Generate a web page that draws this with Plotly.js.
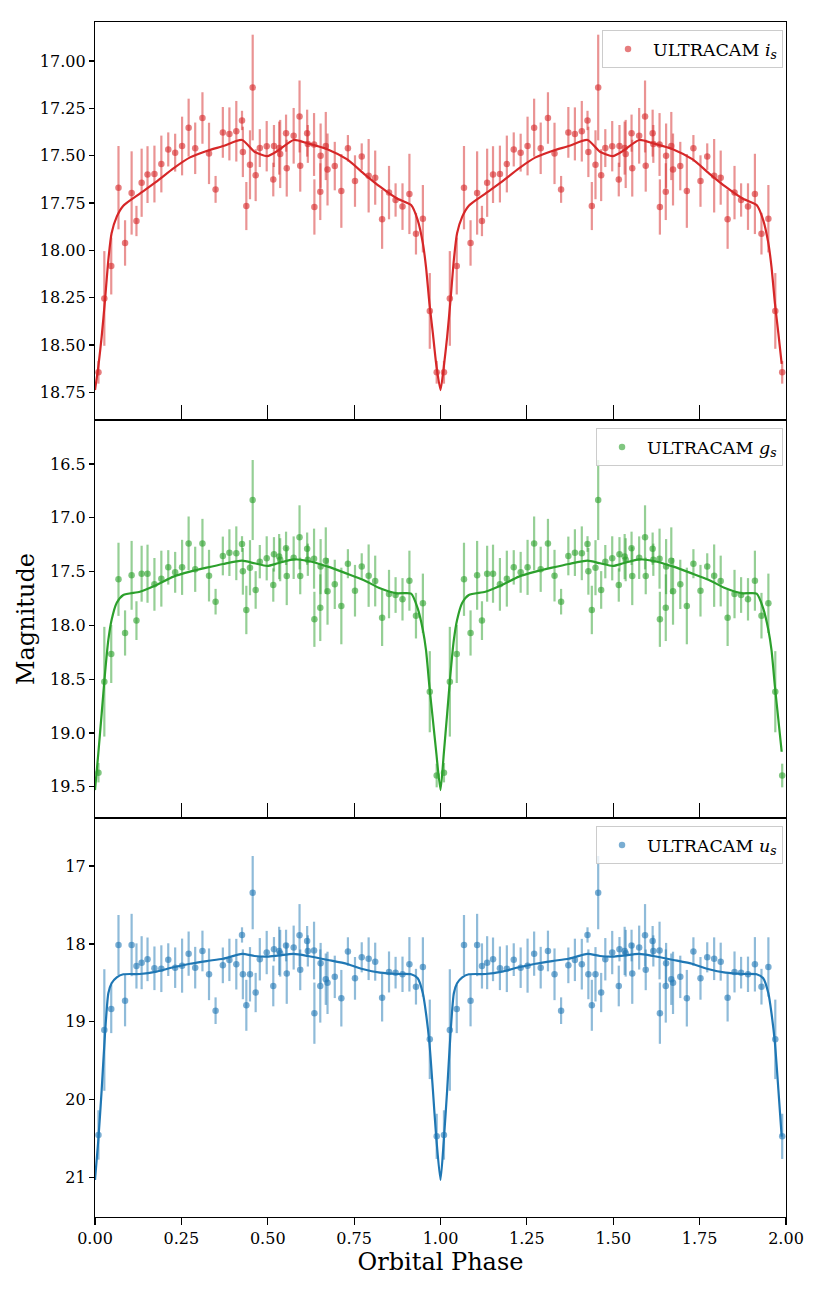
<!DOCTYPE html>
<html>
<head>
<meta charset="utf-8">
<script src="https://cdn.plot.ly/plotly-3.0.1.min.js"></script>
<style>html,body{margin:0;padding:0;background:#fff;}#chart{width:822px;height:1292px;}</style>
</head>
<body>
<div id="chart"></div>
<script>
// ---- data (phase 0..1, folded twice on the plot) ----
const phase = [0.010,0.027,0.047,0.068,0.087,0.106,0.120,0.135,0.152,0.172,0.192,0.212,0.232,0.252,0.271,0.290,0.311,0.330,0.349,0.370,0.389,0.409,0.4255,0.428,0.438,0.4486,0.4564,0.465,0.477,0.497,0.516,0.518,0.533,0.536,0.553,0.555,0.575,0.592,0.594,0.614,0.616,0.634,0.635,0.652,0.653,0.668,0.673,0.694,0.713,0.732,0.7525,0.772,0.792,0.811,0.831,0.851,0.870,0.890,0.910,0.929,0.949,0.969,0.989];

const iMag = [18.644,18.254,18.083,17.669,17.961,17.697,17.845,17.643,17.600,17.597,17.544,17.467,17.484,17.449,17.352,17.461,17.301,17.488,17.678,17.377,17.385,17.371,17.314,17.480,17.766,17.548,17.140,17.603,17.460,17.450,17.626,17.449,17.460,17.491,17.381,17.566,17.395,17.293,17.553,17.381,17.438,17.441,17.771,17.690,17.500,17.449,17.573,17.555,17.686,17.461,17.634,17.505,17.606,17.616,17.836,17.695,17.734,17.769,17.702,17.912,17.833,18.320,18.644];
const iErr = [0.06,0.25,0.15,0.22,0.12,0.22,0.08,0.18,0.15,0.15,0.15,0.09,0.10,0.155,0.153,0.136,0.136,0.162,0.071,0.134,0.14,0.16,0.051,0.133,0.127,0.182,0.279,0.137,0.10,0.133,0.089,0.111,0.14,0.18,0.098,0.15,0.147,0.19,0.137,0.124,0.10,0.166,0.146,0.15,0.17,0.18,0.19,0.128,0.195,0.07,0.136,0.07,0.194,0.143,0.156,0.141,0.088,0.123,0.212,0.11,0.178,0.20,0.06];

const gMag = [19.37,18.524,18.266,17.572,18.071,17.535,17.956,17.52,17.52,17.619,17.566,17.461,17.507,17.461,17.238,17.479,17.238,17.538,17.78,17.355,17.324,17.33,17.244,17.498,17.857,17.464,16.835,17.671,17.408,17.377,17.625,17.34,17.361,17.39,17.284,17.541,17.371,17.182,17.541,17.287,17.39,17.38,17.944,17.836,17.454,17.399,17.684,17.619,17.82,17.427,17.678,17.454,17.538,17.588,17.929,17.709,17.718,17.758,17.585,17.91,17.795,18.617,19.396];
const gErr = [0.09,0.51,0.27,0.34,0.21,0.32,0.18,0.26,0.27,0.245,0.26,0.16,0.19,0.256,0.25,0.21,0.228,0.24,0.119,0.18,0.217,0.25,0.073,0.217,0.225,0.256,0.372,0.175,0.155,0.205,0.155,0.16,0.21,0.20,0.155,0.271,0.198,0.298,0.17,0.15,0.15,0.279,0.256,0.31,0.256,0.31,0.31,0.229,0.356,0.135,0.24,0.124,0.29,0.236,0.263,0.225,0.166,0.197,0.279,0.212,0.276,0.377,0.11];

const uMag = [20.452,19.105,18.835,18.014,18.728,18.014,18.283,18.241,18.198,18.313,18.318,18.202,18.305,18.279,18.125,18.305,18.091,18.39,18.857,18.275,18.205,18.26,17.885,18.39,18.788,18.39,17.342,18.624,18.197,18.111,18.54,18.068,18.09,18.12,18.021,18.38,18.047,17.889,18.333,17.962,18.09,18.085,18.889,18.54,18.248,18.453,18.5,18.423,18.697,18.099,18.442,18.172,18.19,18.228,18.69,18.36,18.369,18.39,18.262,18.549,18.296,19.225,20.47];
const uErr = [0.317,0.78,0.31,0.385,0.33,0.40,0.29,0.34,0.28,0.28,0.30,0.21,0.26,0.347,0.284,0.267,0.261,0.332,0.171,0.229,0.272,0.325,0.098,0.32,0.327,0.349,0.47,0.252,0.272,0.278,0.261,0.156,0.31,0.30,0.203,0.389,0.282,0.40,0.261,0.192,0.20,0.37,0.393,0.47,0.261,0.33,0.40,0.272,0.363,0.184,0.274,0.193,0.274,0.244,0.306,0.263,0.203,0.227,0.349,0.229,0.381,0.51,0.29];

// ---- model light curves ----
const modelPhase = [0,0.0096,0.0193,0.029,0.0386,0.048,0.063,0.082,0.13,0.178,0.227,0.275,0.323,0.371,0.4255,0.4615,0.4985,0.529,0.575,0.616,0.674,0.73,0.777,0.825,0.873,0.915,0.934,0.949,0.958,0.968,0.978,0.9875];
const iModel = [18.738,18.614,18.456,18.262,18.051,17.91,17.822,17.764,17.70,17.637,17.567,17.509,17.475,17.449,17.417,17.479,17.502,17.474,17.417,17.435,17.467,17.52,17.593,17.664,17.725,17.761,17.84,17.963,18.087,18.28,18.44,18.60];
const gModel = [19.531,19.19,18.82,18.446,18.136,17.95,17.79,17.718,17.687,17.625,17.547,17.501,17.464,17.43,17.399,17.423,17.448,17.423,17.386,17.402,17.454,17.52,17.578,17.656,17.702,17.705,17.842,18.043,18.229,18.57,18.88,19.175];
const uModel = [21.03,20.517,19.875,19.148,18.634,18.506,18.43,18.39,18.386,18.356,18.30,18.255,18.22,18.19,18.129,18.155,18.163,18.15,18.129,18.155,18.206,18.258,18.326,18.369,18.386,18.39,18.44,18.634,18.89,19.275,19.875,20.474];

const bandLetters = ['i','g','u'];
const bandColors = ['214,39,40','44,160,44','31,119,180'];

const xTicks = [0,0.25,0.5,0.75,1.0,1.25,1.5,1.75,2.0];
const yTicks1 = [17.00,17.25,17.50,17.75,18.00,18.25,18.50,18.75];
const yTicks2 = [16.5,17.0,17.5,18.0,18.5,19.0,19.5];
const yTicks3 = [17,18,19,20,21];

// ---- build ----
const fold = a => a.concat(a);
const foldX = a => a.concat(a.map(p => p + 1));

const FONT = 'DejaVu Serif, Liberation Serif, serif';
const LEGSIZE = 17.5;
const bandName = L => 'ULTRACAM <i style="font-size:' + LEGSIZE + 'px">' + L + '</i><sub style="font-style:italic">s</sub>';

const bands = [
  {mag:iMag, err:iErr, model:iModel},
  {mag:gMag, err:gErr, model:gModel},
  {mag:uMag, err:uErr, model:uModel}
];
const axIds = [['x','y'],['x2','y2'],['x3','y3']];
const legIds = ['legend','legend2','legend3'];

const traces = [];
bands.forEach((b, k) => {
  const c = bandColors[k];
  traces.push({
    type:'scatter', mode:'markers',
    x: foldX(phase), y: fold(b.mag),
    error_y:{type:'data', array: fold(b.err), visible:true, color:'rgba('+c+',0.5)', thickness:2.2, width:0},
    marker:{size:6.5, color:'rgba('+c+',0.6)', line:{width:0}},
    name: bandName(bandLetters[k]), xaxis: axIds[k][0], yaxis: axIds[k][1], legend: legIds[k],
    hoverinfo:'skip'
  });
  traces.push({
    type:'scatter', mode:'lines',
    x: foldX(modelPhase), y: fold(b.model),
    line:{color:'rgb('+c+')', width:2.2, shape:'spline', smoothing:0.6},
    showlegend:false, xaxis: axIds[k][0], yaxis: axIds[k][1], hoverinfo:'skip'
  });
});

const baseX = {
  range:[0,2], tickvals:xTicks, tickformat:'.2f', showgrid:false, zeroline:false,
  showline:true, linecolor:'#000', linewidth:1.2, mirror:true,
  tickcolor:'#000', tickwidth:1.2,
  tickfont:{family:FONT, size:16, color:'#000'}
};
const baseY = {
  showgrid:false, zeroline:false, showline:true, linecolor:'#000', linewidth:1.2, mirror:true,
  ticks:'outside', ticklen:5, tickcolor:'#000', tickwidth:1.2,
  tickfont:{family:FONT, size:16, color:'#000'}
};
const d3 = 399/1195, d2 = 797/1195;

const legBase = {
  xref:'paper', yref:'paper', xanchor:'right', yanchor:'top', x:0.9957,
  bgcolor:'rgba(255,255,255,0.8)', bordercolor:'#cccccc', borderwidth:1,
  itemwidth:40,
  font:{family:FONT, size:LEGSIZE, color:'#000'}
};

const layout = {
  width:822, height:1292,
  margin:{l:95, r:36, t:22, b:75},
  paper_bgcolor:'#fff', plot_bgcolor:'#fff',
  font:{family:FONT, color:'#000'},
  xaxis: Object.assign({}, baseX, {anchor:'y', matches:'x3', ticks:'inside', ticklen:15, showticklabels:false}),
  xaxis2: Object.assign({}, baseX, {anchor:'y2', matches:'x3', ticks:'inside', ticklen:15, showticklabels:false}),
  xaxis3: Object.assign({}, baseX, {anchor:'y3', ticks:'outside', ticklen:7,
    title:{text:'Orbital Phase', font:{family:FONT, size:24, color:'#000'}, standoff:4}}),
  xaxis4: Object.assign({}, baseX, {anchor:'y3', overlaying:'x3', side:'bottom', ticks:'inside', ticklen:8, showticklabels:false, showline:false}),
  yaxis: Object.assign({}, baseY, {domain:[d2,1], range:[18.896,16.794], tickvals:yTicks1, tickformat:'.2f'}),
  yaxis2: Object.assign({}, baseY, {domain:[d3,d2], range:[19.791,16.091], tickvals:yTicks2, tickformat:'.1f',
    title:{text:'Magnitude', font:{family:FONT, size:24, color:'#000'}, standoff:8}}),
  yaxis3: Object.assign({}, baseY, {domain:[0,d3], range:[21.505,16.384], tickvals:yTicks3, tickformat:'d'}),
  legend: Object.assign({}, legBase, {y:(1217-30)/1195}),
  legend2: Object.assign({}, legBase, {y:(1217-428)/1195}),
  legend3: Object.assign({}, legBase, {y:(1217-826)/1195}),
  showlegend:true
};

Plotly.newPlot('chart', traces, layout, {staticPlot:true, displayModeBar:false});
</script>
</body>
</html>
